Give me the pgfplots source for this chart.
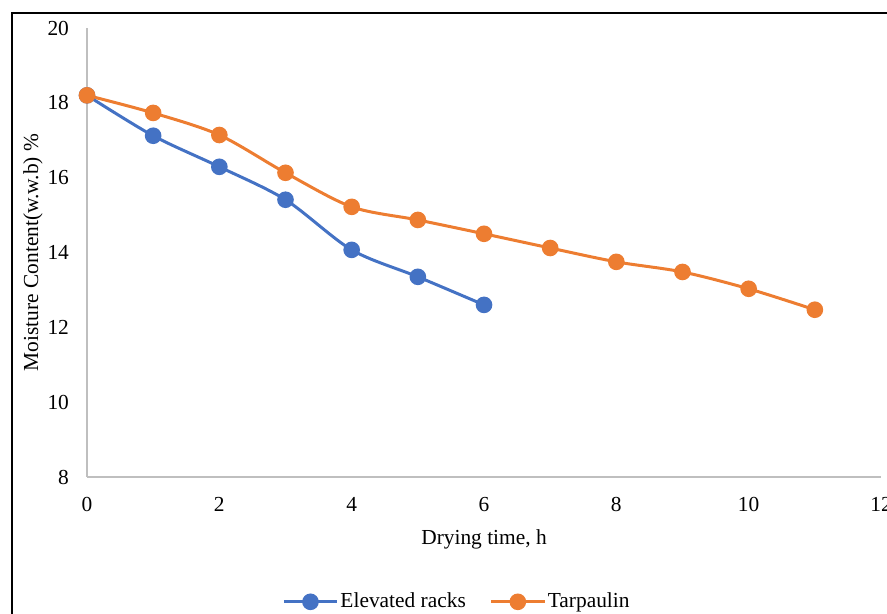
\documentclass[border=0pt]{standalone}
\usepackage{fontspec}
\setmainfont{Liberation Serif}
\usepackage{pgfplots}
\pgfplotsset{compat=1.18}
\definecolor{cblue}{HTML}{4472C4}
\definecolor{corange}{HTML}{ED7D31}
\definecolor{axgray}{HTML}{BFBFBF}
\begin{document}
\begin{tikzpicture}[font=\fontsize{10.7pt}{12.8pt}\selectfont]
\useasboundingbox (0,0) rectangle (443.5pt,307pt);
\begin{scope}
\clip (0,0) rectangle (443.5pt,307pt);
\begin{axis}[
  at={(43.5pt,68.5pt)}, anchor=south west,
  scale only axis, width=397pt, height=224.5pt,
  xmin=0, xmax=12, ymin=8, ymax=20,
  xtick={0,2,...,12}, ytick={8,10,...,20},
  axis x line*=bottom, axis y line*=left,
  axis line style={-, draw=axgray, line width=0.75pt},
  major tick length=0pt, tick style={draw=none},
  /pgf/number format/assume math mode=true,
  every tick label/.append style={font=\fontsize{10.7pt}{12.8pt}\selectfont},
  label style={font=\fontsize{10.7pt}{12.8pt}\selectfont},
  xticklabel style={anchor=north, yshift=-6.5pt},
  yticklabel style={anchor=east, xshift=-5.5pt},
  xlabel={Drying time, h},
  xlabel style={at={(axis description cs:0.5,-0.138)}, anchor=center},
  ylabel={Moisture Content(w.w.b) \%},
  ylabel style={at={(axis description cs:-0.068,0.5)}, anchor=center},
  legend style={at={(0.466,-0.278)}, anchor=center, draw=none, fill=none,
    font=\fontsize{10.7pt}{12.8pt}\selectfont,
    legend columns=2, /tikz/every even column/.append style={column sep=11pt},
    nodes={inner xsep=1pt}},
  legend image code/.code={\draw[#1, mark repeat=2, mark phase=2] plot coordinates {(0pt,0pt) (13.25pt,0pt) (26.5pt,0pt)};},
]
\addplot[cblue, line width=1.5pt, smooth, mark=*, mark size=3.4pt, mark options={fill=cblue, draw=cblue}] coordinates {
(0,18.2) (1,17.12) (2,16.29) (3,15.41) (4,14.07) (5,13.35) (6,12.6)};
\addlegendentry{Elevated racks}
\addplot[corange, line width=1.5pt, smooth, mark=*, mark size=3.4pt, mark options={fill=corange, draw=corange}] coordinates {
(0,18.2) (1,17.73) (2,17.14) (3,16.13) (4,15.22) (5,14.87) (6,14.5) (7,14.12) (8,13.75) (9,13.48) (10,13.03) (11,12.47)};
\addlegendentry{Tarpaulin}
\end{axis}
\draw[line width=1pt] (6pt,-5pt) -- (6pt,300.25pt) -- (450pt,300.25pt);
\end{scope}
\end{tikzpicture}
\end{document}
